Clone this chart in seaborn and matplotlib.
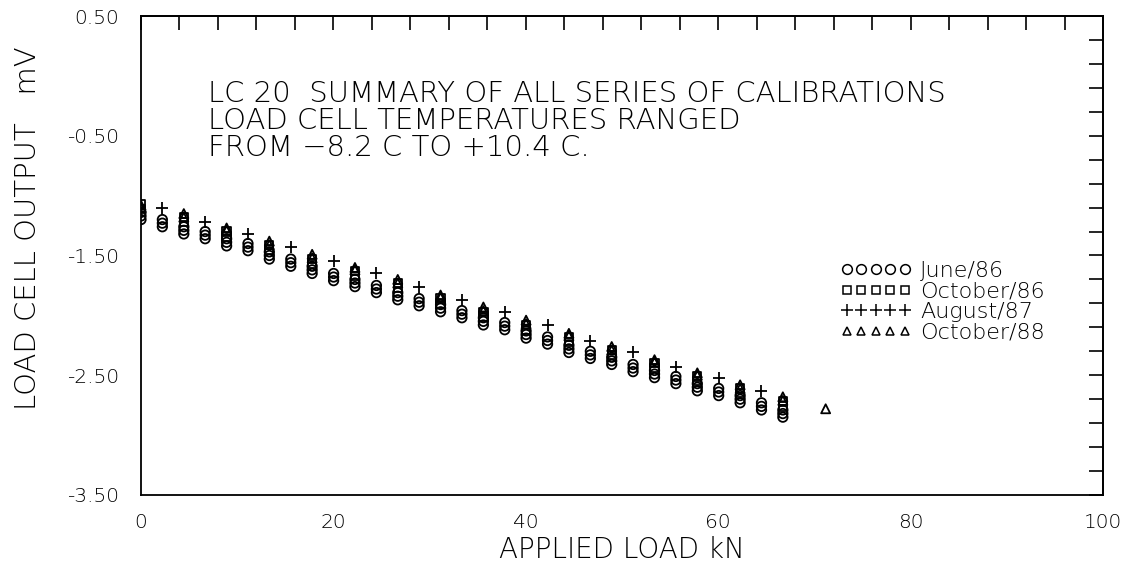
import matplotlib
matplotlib.use("Agg")
import matplotlib.pyplot as plt
from matplotlib.lines import Line2D
from matplotlib.ticker import FixedLocator, MultipleLocator, FormatStrFormatter, NullLocator
import numpy as np
import pandas as pd
import seaborn as sns

# Applied load steps (500 lbf increments expressed in kN)
load_kn = [0.00, 2.22, 4.45, 6.67, 8.90, 11.12, 13.34, 15.57, 17.79, 20.02,
           22.24, 24.47, 26.69, 28.91, 31.14, 33.36, 35.59, 37.81, 40.03, 42.26,
           44.48, 46.71, 48.93, 51.15, 53.38, 55.60, 57.83, 60.05, 62.28, 64.50,
           66.72]
extra_load_kn = [71.17]

# June/86 calibrations (three runs, every load step)
june86_run1 = [-1.14, -1.20, -1.26, -1.30, -1.36, -1.40, -1.47, -1.53, -1.59, -1.65,
               -1.70, -1.75, -1.81, -1.86, -1.91, -1.96, -2.02, -2.06, -2.13, -2.18,
               -2.25, -2.30, -2.35, -2.41, -2.46, -2.51, -2.57, -2.61, -2.67, -2.73,
               -2.79]
june86_run2 = [-1.17, -1.23, -1.29, -1.33, -1.39, -1.43, -1.50, -1.56, -1.62, -1.68,
               -1.73, -1.78, -1.84, -1.89, -1.94, -1.99, -2.05, -2.09, -2.16, -2.21,
               -2.28, -2.33, -2.38, -2.44, -2.49, -2.54, -2.60, -2.64, -2.70, -2.76,
               -2.82]
june86_run3 = [-1.20, -1.26, -1.32, -1.36, -1.42, -1.46, -1.53, -1.59, -1.65, -1.71,
               -1.76, -1.81, -1.87, -1.92, -1.97, -2.02, -2.08, -2.12, -2.19, -2.24,
               -2.31, -2.36, -2.41, -2.47, -2.52, -2.57, -2.63, -2.67, -2.73, -2.79,
               -2.85]

# October/86 calibrations (two runs, even load steps)
oct86_run1 = [-1.07, -1.18, -1.30, -1.41, -1.53, -1.63, -1.73, -1.86,
              -1.97, -2.08, -2.18, -2.29, -2.40, -2.51, -2.61, -2.72]
oct86_run2 = [-1.11, -1.22, -1.34, -1.45, -1.57, -1.67, -1.77, -1.90,
              -2.01, -2.12, -2.22, -2.33, -2.44, -2.55, -2.65, -2.76]

# August/87 calibrations (odd load steps)
aug87_run1 = [-1.10, -1.22, -1.32, -1.43, -1.55, -1.65, -1.76, -1.87,
              -1.97, -2.08, -2.21, -2.31, -2.43, -2.52, -2.63]

# October/88 calibrations (two runs, even load steps, plus one overload point)
oct88_run1 = [-1.08, -1.15, -1.27, -1.38, -1.49, -1.60, -1.70, -1.83,
              -1.93, -2.04, -2.15, -2.26, -2.37, -2.48, -2.58, -2.68]
oct88_run2 = [-1.10, -1.18, -1.29, -1.41, -1.52, -1.62, -1.73, -1.85,
              -1.96, -2.07, -2.17, -2.29, -2.39, -2.50, -2.61, -2.71]
oct88_extra = [-2.78]

series_labels = ["June/86", "October/86", "August/87", "October/88"]
title_lines = ["LC 20  SUMMARY OF ALL SERIES OF CALIBRATIONS",
               "LOAD CELL TEMPERATURES RANGED",
               "FROM \u22128.2 C TO +10.4 C."]
y_major_ticks = [-3.5, -2.5, -1.5, -0.5, 0.5]

even_loads = load_kn[0::2]
odd_loads = load_kn[1::2]

frames = []
def add(loads, values, label):
    frames.append(pd.DataFrame({"load": loads, "output": values, "series": label}))

for run in (june86_run1, june86_run2, june86_run3):
    add(load_kn, run, "June/86")
for run in (oct86_run1, oct86_run2):
    add(even_loads, run, "October/86")
add(odd_loads, aug87_run1, "August/87")
for run in (oct88_run1, oct88_run2):
    add(even_loads, run, "October/88")
add(extra_load_kn, oct88_extra, "October/88")
df = pd.concat(frames, ignore_index=True)

sns.set_theme(style="white")
plt.rcParams["font.family"] = ["DejaVu Sans"]
plt.rcParams["font.weight"] = "light"
plt.rcParams["axes.labelweight"] = "light"
plt.rcParams["axes.unicode_minus"] = True

fig = plt.figure(figsize=(11.24, 5.75), dpi=100)
ax = fig.add_axes([141 / 1124, 1 - 495 / 575, 962 / 1124, 479 / 575])

styles = {
    "June/86":    dict(marker="o", s=46),
    "October/86": dict(marker="s", s=36),
    "August/87":  dict(marker="+", s=75),
    "October/88": dict(marker="^", s=42),
}
for name in series_labels:
    sub = df[df["series"] == name]
    st = styles[name]
    if st["marker"] == "+":
        sns.scatterplot(data=sub, x="load", y="output", marker="+", s=st["s"],
                        color="black", linewidth=1.3, ax=ax, legend=False)
    else:
        sns.scatterplot(data=sub, x="load", y="output", marker=st["marker"], s=st["s"],
                        facecolor="none", edgecolor="black", linewidth=1.3,
                        ax=ax, legend=False)

ax.set_xlim(0, 100)
ax.set_ylim(-3.5, 0.5)
ax.xaxis.set_major_locator(MultipleLocator(20))
ax.xaxis.set_minor_locator(MultipleLocator(4))
ax.yaxis.set_major_locator(FixedLocator(y_major_ticks))
ax.yaxis.set_minor_locator(FixedLocator(np.arange(-3.3, 0.4, 0.2)))
ax.yaxis.set_major_formatter(FormatStrFormatter("%.2f"))
ax.xaxis.set_major_formatter(FormatStrFormatter("%d"))

ax.tick_params(which="both", direction="in", top=False, right=False,
               color="black", width=1.2, labelsize=14.5, labelcolor="black")
ax.tick_params(axis="y", which="major", length=13.5, pad=16)
ax.tick_params(axis="y", which="minor", length=9)
ax.tick_params(axis="x", which="both", length=12)
ax.tick_params(axis="x", which="major", pad=13)
for sp in ax.spines.values():
    sp.set_color("black")
    sp.set_linewidth(1.3)

# Top and right edges carry evenly sized inward ticks without labels
top = ax.secondary_xaxis("top")
top.xaxis.set_major_locator(MultipleLocator(4))
top.xaxis.set_minor_locator(NullLocator())
top.tick_params(axis="x", which="both", direction="in", length=10, width=1.2,
                color="black", labeltop=False, labelbottom=False)
right = ax.secondary_yaxis("right")
right.yaxis.set_major_locator(FixedLocator(np.arange(-3.5, 0.6, 0.2)))
right.yaxis.set_minor_locator(NullLocator())
right.tick_params(axis="y", which="both", direction="in", length=10, width=1.2,
                  color="black", labelright=False, labelleft=False)
for sec in (top, right):
    for sp in sec.spines.values():
        sp.set_color("black")
        sp.set_linewidth(1.3)

ax.set_xlabel("APPLIED LOAD kN", fontsize=20, color="black", fontweight="light")
ax.set_ylabel("LOAD CELL OUTPUT   mV", fontsize=21, color="black", fontweight="light")
ax.xaxis.set_label_coords(0.5, -0.085)
ax.yaxis.set_label_coords(-0.103, 0.557)

for i, line in enumerate(title_lines):
    fig.text(208 / 1124, 1 - (94 + 27 * i) / 575, line, fontsize=21,
             fontweight="light", color="black", ha="left", va="center")

handles = [
    Line2D([], [], ls="none", marker="o", ms=7.0, mfc="none", mec="black", mew=1.1),
    Line2D([], [], ls="none", marker="s", ms=6.3, mfc="none", mec="black", mew=1.1),
    Line2D([], [], ls="none", marker="+", ms=8.5, mec="black", mew=1.1),
    Line2D([], [], ls="none", marker="^", ms=6.3, mfc="none", mec="black", mew=1.1),
]
leg = ax.legend(handles, series_labels, numpoints=5, handlelength=3.21,
                handletextpad=0.39, labelspacing=0.02, frameon=False,
                fontsize=16, borderpad=0, borderaxespad=0,
                loc="upper left", bbox_to_anchor=(840 / 1124, 1 - 261 / 575),
                bbox_transform=fig.transFigure)
for t in leg.get_texts():
    t.set_color("black")
    t.set_fontweight("light")

fig.savefig("out.png", dpi=100, facecolor="white")
